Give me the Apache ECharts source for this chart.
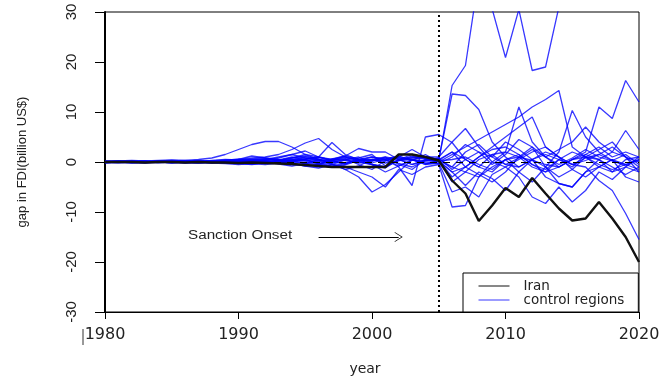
<!DOCTYPE html>
<html>
<head>
<meta charset="utf-8">
<script src="https://cdn.jsdelivr.net/npm/echarts@6/dist/echarts.min.js"></script>
<style>
  html, body { margin: 0; padding: 0; background: #fff; }
  #chart { width: 664px; height: 381px; }
</style>
</head>
<body>
<div id="chart"></div>
<script>
// years 1980 .. 2020
const years = []
for (let y = 1980; y <= 2020; y++) years.push(y)

const xTicks = [1980, 1990, 2000, 2010, 2020]
const yTicks = [-30, -20, -10, 0, 10, 20, 30]

// gap in FDI for Iran (billion US$)
const iran = [
  0, 0, 0, -0.1, 0, 0, -0.1, 0, -0.1, -0.1,
  -0.2, -0.1, -0.2, -0.3, -0.4, -0.6, -0.8, -1.0, -1.0, -1.0,
  -1.0, -1.0, 1.5, 1.5, 1.0, 0.3, -3.7, -6.3, -11.8, -8.7,
  -5.2, -7.0, -3.2, -6.3, -9.3, -11.7, -11.3, -8.0, -11.3, -15.0,
  -20.0
]

// placebo gaps of the control regions
const c1 = [
  0.1, 0.2, 0.1, 0.0, 0.2, 0.3, 0.2, 0.1, 0.3, 0.5,
  0.4, 0.6, 0.8, 0.5, 0.3, 0.6, 0.9, 0.4, 1.0, 0.2,
  -0.5, -1.2, 0.5, 1.0, 0.8, 0.3, 15.3, 19.3, 37, 30.6,
  20.9, 30.5, 18.3, 19, 31, 42, 50, 48, 55, 58,
  60
]
const c2 = [
  0, -0.1, 0.1, 0.2, 0, -0.2, 0.1, 0.3, 0.2, 0,
  -0.3, 0.2, 0.5, 1.0, 1.5, 2.2, 1.0, 0.3, -0.5, 0.8,
  1.5, -0.8, 0.3, 1.2, 0.6, 0.5, 13.6, 13.3, 10.5, 4.0,
  1.0, -1.0, 0.5, 2.0, 1.0, -0.5, 0.8, 1.5, 0.3, -0.8,
  0.5
]
const c3 = [
  -0.1, 0, 0.2, 0.1, -0.1, 0, 0.2, 0.1, -0.2, 0.1,
  0.5, 1.2, 0.8, 0.4, -0.3, -0.8, -0.5, 0.6, 1.2, 2.7,
  2.0, 2.0, 0.5, -0.5, 0.2, 0.8, -1.5, 0.5, 2.0, 1.0,
  -0.5, 0.8, 2.5, 1.0, -1.0, 0.5, 2.0, 11.0, 8.7, 16.3,
  12.0
]
const c4 = [
  0.2, 0.1, 0, -0.1, 0.1, 0.2, 0, -0.2, 0.1, 0.3,
  0.6, 0.2, -0.3, 0.4, 1.0, 0.5, -0.4, -1.0, -0.6, 0.3,
  1.0, 0.5, -0.8, 0.3, 1.5, 0, 1.5, 3.0, 4.5, 6.0,
  7.5, 9.0, 11.0, 12.5, 14.3, 3.0, 1.0, 0.5, 2.0, 1.0,
  0
]
const c5 = [
  0, 0.1, -0.1, 0, 0.2, 0.1, -0.1, 0, 0.2, 0.4,
  0.2, -0.2, 0.3, 0.8, 1.5, 0.8, 0.2, -0.5, 0.4, 1.0,
  -0.2, 0.6, 1.2, 0.4, -0.5, 0.3, 2.0, 0.5, -1.0, 1.5,
  2.0, 11.0, 4.0, 1.0, -0.5, 0.8, 2.5, 1.0, 0.2, -0.5,
  0.3
]
const c6 = [
  0.1, 0, 0.1, 0.2, 0.1, 0, -0.1, 0.1, 0, -0.1,
  -0.3, -0.5, -0.2, 0.3, 0.8, 1.2, 0.6, -0.3, -1.5, -0.8,
  0.5, 1.0, -0.5, -1.5, 0.5, 0.2, -1.0, 2.0, 3.5, 1.0,
  4.0, 2.5, 0.5, -1.0, 2.0, 10.3, 5.0, 2.0, 0.3, 1.5,
  -0.5
]
const c7 = [
  -0.2, -0.1, 0, 0.1, 0, -0.1, 0.1, 0.2, 0.1, 0,
  0.3, 0.5, 0.2, -0.2, 0.5, 1.0, 0.4, -0.2, 0.6, -0.5,
  -1.5, 0.3, 1.0, 0.5, -0.2, -0.3, 1.0, 3.5, 2.0, -0.5,
  1.5, 4.5, 3.0, 1.0, 2.5, 4.0, 7.0, 4.0, 2.0, 6.3,
  2.5
]
const c8 = [
  0, 0.2, 0.1, 0, 0.1, 0.2, 0.3, 0.2, 0.1, 0.3,
  0.5, 0.8, 1.0, 1.5, 2.5, 3.8, 4.7, 2.5, 1.0, 0.5,
  -0.5, -1.0, 0.3, 0.8, 1.0, 1.0, 4.0, 6.7, 3.0, 0.0,
  -1.0, 0.5, 2.0, 3.0, 1.0, -0.5, 0.3, 1.5, 3.0, 1.0,
  -1.0
]
const c9 = [
  0.1, 0.2, 0.3, 0.2, 0.3, 0.4, 0.3, 0.5, 0.8, 1.5,
  2.5, 3.5, 4.1, 4.1, 3.0, 1.5, 0.5, 0, -0.3, 0.2,
  0.5, -0.2, 0.3, 0.5, -0.3, 0.2, -2.0, -1.0, 1.0, 2.5,
  3.0, 1.5, -0.5, -2.0, -1.0, 0.5, 1.0, -1.0, -2.0, 0.5,
  1.0
]
const c10 = [
  0, -0.1, 0, 0.1, 0, -0.1, 0, 0.1, 0, -0.2,
  0.0, 0.4, 0.2, -0.2, 0.3, 0.6, 1.0, 3.9, 1.5, 0.5,
  1.0, 0.5, -1.0, -4.7, 5.0, 5.5, 3.9, 0.5, -1.0, -2.0,
  0.5, 1.5, -0.5, -1.5, 0.5, 2.0, 1.0, -0.5, -1.5, -0.5,
  0.5
]
const c11 = [
  -0.1, 0, -0.1, -0.2, 0, 0.1, -0.1, -0.2, -0.1, 0,
  -0.2, -0.4, -0.1, 0.2, -0.3, -0.8, -1.2, -0.5, -1.5, -3.0,
  -6.0, -4.5, -2.0, 0.5, 1.0, 0.5, -4.0, -2.0, -3.0, -1.0,
  0.5, -2.0, -4.0, -1.0, -4.3, -5.0, -2.0, 0.5, -1.0, -2.5,
  -1.0
]
const c12 = [
  0, 0, -0.1, 0, 0.1, 0, 0, -0.1, -0.2, -0.3,
  -0.5, -0.3, 0.1, -0.4, -0.8, -0.3, 0.5, -0.5, -1.0, -2.0,
  -3.0, -5.0, -1.5, -2.5, -1.0, -0.5, -9.0, -8.7, -3.0, 0.0,
  2.0, 1.0, -1.0, -2.0, 0.5, -1.0, 1.5, 0.5, -2.0, -1.0,
  1.0
]
const c13 = [
  0.1, 0, 0, -0.1, -0.1, 0, 0.1, 0, 0, 0.1,
  0.3, 0.1, -0.2, 0.2, 0.5, 0.2, -0.3, 0.3, 0.8, 0.4,
  0.2, 1.0, 0.5, -0.5, 0.5, 0.6, -1.0, -2.0, 0.5, 1.5,
  -0.5, -1.0, 0.5, 1.5, 0.5, -0.5, -1.0, -3.7, -5.7, -10.3,
  -15.5
]
const c14 = [
  0, -0.1, -0.2, -0.1, 0, -0.1, -0.2, -0.1, 0, 0.1,
  0.0, -0.3, -0.5, -0.2, 0.2, 0.5, -0.2, -0.8, -0.3, 0.5,
  -0.5, -2.0, -0.8, 0.5, -0.5, -0.2, -6.0, -5.0, -7.0, -2.5,
  -1.0, -3.0, -7.0, -8.3, -5.0, -8.0, -5.7, -2.0, -3.5, -1.0,
  -2.0
]
const c15 = [
  0.1, 0.1, 0, 0, 0.1, 0.2, 0.1, 0, 0.1, 0.2,
  0.1, 0.3, 0.5, 0.2, 0, -0.3, 0.2, 0.6, 0.3, -0.2,
  0.2, 0.8, -0.3, -1.0, 0.3, 0.2, -2.0, -4.7, -2.0, -3.3,
  -5.7, -2.0, 0.5, -3.0, -4.3, -5.0, -2.0, -1.0, 0.5, -3.0,
  -4.0
]
const c16 = [
  0, 0, 0.1, 0, -0.1, 0, 0.1, 0.1, 0, 0,
  0.1, 0.2, 0, -0.2, 0.1, 0.3, 0.5, 0.2, -0.2, 0.3,
  0.5, 0.2, 0.8, 0.4, 0.3, 0.2, 0.5, 1.0, -0.5, -1.5,
  0.5, 1.0, 0.3, -0.5, -1.0, 0.5, 1.5, 3.0, 1.0, 2.0,
  1.0
]
const c17 = [
  -0.1, 0, 0, 0.1, 0, -0.1, -0.1, 0, 0.1, 0,
  -0.1, 0, 0.3, 0.5, 0.2, -0.2, -0.5, 0.2, 0.5, 0.0,
  -0.5, -1.0, 0.5, 1.5, 0.8, 0.3, -3.0, -1.0, 1.0, 3.0,
  5.0, 7.0, 9.0, 3.0, 1.0, -1.5, -3.0, -1.0, 0.5, -0.5,
  -1.5
]
const c18 = [
  0, 0.1, 0.1, 0, 0, 0.1, 0, 0, -0.1, 0,
  0.2, 0.4, 0.6, 0.3, 0.8, 1.5, 1.0, 0.5, 1.2, 0.6,
  0.3, 0.5, 1.0, 2.5, 1.0, 0.5, 2.0, -1.0, -2.5, -4.0,
  -2.0, 1.0, 3.0, -1.0, -3.0, -1.5, 1.0, 2.5, 4.0, 1.0,
  -2.0
]
const controls = [c1, c2, c3, c4, c5, c6, c7, c8, c9, c10, c11, c12, c13, c14, c15, c16, c17, c18]

const onsetYear = 2005
const arrowFrom = [1996, -15]
const arrowTo = [2002, -15]

const fontFamily = 'Liberation Sans, Arial, sans-serif'
const wideFont = 'DejaVu Sans, Verdana, sans-serif'

function pairs(vals) {
  return years.map((y, i) => [y, vals[i]])
}

const chart = echarts.init(document.getElementById('chart'), null, { renderer: 'canvas' })

const series = controls.map(vals => ({
  name: 'control regions',
  type: 'line',
  data: pairs(vals),
  symbol: 'none',
  clip: true,
  silent: true,
  lineStyle: { color: 'rgba(0,0,255,0.78)', width: 1.3 },
  itemStyle: { color: '#0000ff' }
}))

series.push({
  name: 'Iran',
  type: 'line',
  data: pairs(iran),
  symbol: 'none',
  clip: true,
  z: 5,
  lineStyle: { color: '#111', width: 2.4 },
  itemStyle: { color: '#000' },
  markLine: {
    silent: true,
    symbol: 'none',
    animation: false,
    label: { show: false },
    data: [
      { yAxis: 0, lineStyle: { color: '#000', width: 1.2, type: [7, 6] } },
      { xAxis: onsetYear, lineStyle: { color: '#000', width: 2, type: [2, 3] } },
      [
        { coord: arrowFrom, symbol: 'none', lineStyle: { color: '#000', width: 1, type: 'solid' } },
        { coord: arrowTo, symbol: 'path://M0,0 L6,10 L5,10 L0,1.6 L-5,10 L-6,10 Z', symbolSize: [10, 8] }
      ]
    ]
  }
})

chart.setOption({
  animation: false,
  backgroundColor: '#fff',
  grid: {
    left: 105,
    right: 25,
    top: 12,
    bottom: 69,
    containLabel: false,
    outerBoundsMode: 'none',
    show: true,
    borderColor: '#000',
    borderWidth: 1,
    backgroundColor: 'transparent'
  },
  legend: {
    data: ['Iran', 'control regions'],
    orient: 'vertical',
    left: 463,
    top: 273,
    padding: [6, 14, 5, 15],
    itemGap: 0,
    itemWidth: 31,
    itemHeight: 13,
    backgroundColor: '#fff',
    borderColor: '#000',
    borderWidth: 1,
    lineStyle: { width: 1 },
    itemStyle: { opacity: 0 },
    textStyle: { fontFamily: wideFont, fontSize: 13.5, lineHeight: 13, color: '#222', padding: [0, 0, 0, 9] }
  },
  xAxis: {
    type: 'value',
    min: xTicks[0],
    max: xTicks[xTicks.length - 1],
    interval: 10,
    name: 'year',
    nameLocation: 'middle',
    nameGap: 50,
    nameTextStyle: { fontFamily: wideFont, fontSize: 14, color: '#222', padding: [0, 14, 0, 0] },
    splitLine: { show: false },
    axisLine: { onZero: false, lineStyle: { color: '#000', width: 1 } },
    axisTick: { show: true, length: 7, lineStyle: { color: '#000' } },
    axisLabel: {
      fontFamily: wideFont, fontSize: 16, color: '#222', margin: 15,
      formatter: v => String(v)
    }
  },
  yAxis: {
    type: 'value',
    min: yTicks[0],
    max: yTicks[yTicks.length - 1],
    interval: 10,
    name: 'gap in FDI(billion US$)',
    nameLocation: 'middle',
    nameGap: 76,
    nameTextStyle: { fontFamily: fontFamily, fontSize: 13, color: '#222' },
    splitLine: { show: false },
    axisLine: { show: true, onZero: false, lineStyle: { color: '#000', width: 2 } },
    axisTick: { show: true, length: 10, lineStyle: { color: '#000' } },
    axisLabel: { fontFamily: fontFamily, fontSize: 15, color: '#222', rotate: 90, margin: 26 }
  },
  graphic: [
    {
      type: 'text',
      x: 188,
      y: 230,
      scaleX: 1.27,
      style: { text: 'Sanction Onset', font: '12px ' + fontFamily, fill: '#222' }
    },
    {
      type: 'line',
      shape: { x1: 83, y1: 329, x2: 83, y2: 345 },
      style: { stroke: '#333', lineWidth: 1 }
    }
  ],
  series: series
})
</script>
</body>
</html>
